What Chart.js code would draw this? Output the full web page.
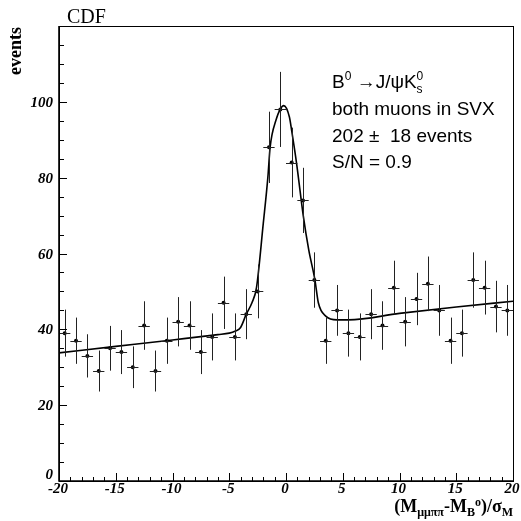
<!DOCTYPE html>
<html>
<head>
<meta charset="utf-8">
<script src="https://cdn.jsdelivr.net/npm/chart.js@4.4.0/dist/chart.umd.min.js"></script>
<style>
  html, body { margin: 0; padding: 0; background: #fff; }
  #wrap { position: relative; width: 521px; height: 521px; }
</style>
</head>
<body>
<div id="wrap"><canvas id="c" width="521" height="521"></canvas></div>
<script>
// bin centres of (M - M_B)/sigma_M
const binCenters = [-19.5, -18.5, -17.5, -16.5, -15.5, -14.5, -13.5, -12.5, -11.5, -10.5,
  -9.5, -8.5, -7.5, -6.5, -5.5, -4.5, -3.5, -2.5, -1.5, -0.5,
  0.5, 1.5, 2.5, 3.5, 4.5, 5.5, 6.5, 7.5, 8.5, 9.5,
  10.5, 11.5, 12.5, 13.5, 14.5, 15.5, 16.5, 17.5, 18.5, 19.5];
const counts = [39, 37, 33, 29, 35, 34, 30, 41, 29, 37,
  42, 41, 34, 38, 47, 38, 44, 50, 88, 98,
  84, 74, 53, 37, 45, 39, 38, 44, 41, 51,
  42, 48, 52, 45, 37, 39, 53, 51, 46, 45];
const errors = [6.2, 6.1, 5.7, 5.4, 5.9, 5.8, 5.5, 6.4, 5.4, 6.1,
  6.5, 6.4, 5.8, 6.2, 6.9, 6.2, 6.6, 7.1, 9.4, 9.9,
  9.2, 8.6, 7.3, 6.1, 6.7, 6.2, 6.2, 6.6, 6.4, 7.1,
  6.5, 6.9, 7.2, 6.7, 6.1, 6.2, 7.3, 7.1, 6.8, 6.7];

// fit curve
const fitX = [-20, -15, -10, -6, -5, -4.5, -4, -3.5, -3, -2.6, -2.0, -1.6, -1.4, -0.9, -0.2,
  0.3, 0.5, 0.94, 1.52, 2.0, 2.55, 2.85, 3.5, 4.5, 5.5, 10, 15, 20];
const fitY = [33.8, 35.5, 37.2, 38.6, 39.0, 39.5, 40.5, 44, 47, 51, 68, 80, 88, 95, 99,
  96, 92.4, 83.6, 70, 61, 53, 47, 43.5, 42.5, 42.5, 44.2, 45.9, 47.4];

const xTickLabels = ['-20', '-15', '-10', '-5', '0', '5', '10', '15', '20'];
const yTickLabels = ['0', '20', '40', '60', '80', '100'];
const infoLines = ['both muons in SVX', '202 \u00b1  18 events', 'S/N = 0.9'];

const SERIF = '"Liberation Serif", "Times New Roman", serif';
const SANS = '"Liberation Sans", Arial, sans-serif';

const errorBars = {
  id: 'errorBars',
  afterDatasetsDraw(chart) {
    const {ctx, scales: {x, y}} = chart;
    ctx.save();
    ctx.strokeStyle = '#222';
    ctx.lineWidth = 1;
    binCenters.forEach((c, i) => {
      const px = Math.round(x.getPixelForValue(c)) + 0.5;
      const py = Math.round(y.getPixelForValue(counts[i])) + 0.5;
      ctx.beginPath();
      ctx.moveTo(px, y.getPixelForValue(counts[i] + errors[i]));
      ctx.lineTo(px, y.getPixelForValue(counts[i] - errors[i]));
      ctx.moveTo(x.getPixelForValue(c - 0.5), py);
      ctx.lineTo(x.getPixelForValue(c + 0.5), py);
      ctx.stroke();
    });
    ctx.restore();
  }
};

const frame = {
  id: 'frame',
  afterDraw(chart) {
    const {ctx, chartArea: a, scales: {x, y}} = chart;
    ctx.save();
    ctx.strokeStyle = '#000';
    ctx.lineWidth = 1;
    ctx.strokeRect(a.left + 0.5, a.top + 0.5, a.right - a.left, a.bottom - a.top);
    ctx.lineWidth = 1.6;
    ctx.beginPath();
    ctx.moveTo(a.left, a.top);
    ctx.lineTo(a.left, a.bottom);
    ctx.lineTo(a.right, a.bottom);
    ctx.stroke();

    // ticks
    ctx.lineWidth = 1;
    ctx.beginPath();
    for (let v = -20; v <= 20; v++) {
      const px = Math.round(x.getPixelForValue(v)) + 0.5;
      const len = v % 5 === 0 ? 8 : 4;
      ctx.moveTo(px, a.bottom);
      ctx.lineTo(px, a.bottom - len);
    }
    for (let v = 0; v <= 120; v += 5) {
      const py = Math.round(y.getPixelForValue(v)) + 0.5;
      const len = v % 20 === 0 ? 8 : 5;
      ctx.moveTo(a.left, py);
      ctx.lineTo(a.left + len, py);
    }
    ctx.stroke();

    // tick labels
    ctx.fillStyle = '#000';
    ctx.font = 'bold italic 15px ' + SERIF;
    ctx.textAlign = 'center';
    ctx.textBaseline = 'alphabetic';
    xTickLabels.forEach(t => {
      ctx.fillText(t, x.getPixelForValue(+t) - 1, a.bottom + 12);
    });
    ctx.textAlign = 'right';
    yTickLabels.forEach(t => {
      const v = +t;
      const py = v === 0 ? a.bottom - 2 : y.getPixelForValue(v) + 5;
      ctx.fillText(t, a.left - 6, py);
    });

    // CDF
    ctx.textAlign = 'left';
    ctx.font = '20px ' + SERIF;
    ctx.fillText('CDF', 67, 23);

    // y title
    ctx.save();
    ctx.translate(21, 51);
    ctx.rotate(-Math.PI / 2);
    ctx.textAlign = 'center';
    ctx.font = 'bold 18px ' + SERIF;
    ctx.fillText('events', 0, 0);
    ctx.restore();

    // x title: (M_μμππ - M_B0)/σ_M, right aligned
    const big = 'bold 18px ' + SERIF, small = 'bold 12px ' + SERIF;
    const parts = [
      ['(M', big, 0], ['\u03bc\u03bc\u03c0\u03c0', small, 4], ['-M', big, 0], ['B', small, 4],
      ['o', small, -6], [')/\u03c3', big, 0], ['M', small, 4]
    ];
    let w = 0;
    parts.forEach(p => { ctx.font = p[1]; w += ctx.measureText(p[0]).width; });
    let tx = a.right - w;
    parts.forEach(p => {
      ctx.font = p[1];
      ctx.fillText(p[0], tx, 512 + p[2]);
      tx += ctx.measureText(p[0]).width;
    });

    // info text
    const f = '19px ' + SANS, fs = '12px ' + SANS;
    let ix = 332;
    const first = [['B', f, 0], ['0', fs, -8], [' \u2192J/\u03c8K', f, 0]];
    first.forEach(p => {
      ctx.font = p[1];
      ctx.fillText(p[0], ix, 88 + p[2]);
      ix += ctx.measureText(p[0]).width;
    });
    ctx.font = fs;
    ctx.fillText('0', ix, 80);
    ctx.fillText('s', ix, 93);
    ctx.font = f;
    infoLines.forEach((t, i) => ctx.fillText(t, 332, 115 + i * 26.5));
    ctx.restore();
  }
};

new Chart(document.getElementById('c'), {
  type: 'scatter',
  data: {
    datasets: [{
      data: fitX.map((v, i) => ({x: v, y: fitY[i]})),
      showLine: true,
      borderColor: '#000',
      borderWidth: 1.6,
      pointRadius: 0,
      cubicInterpolationMode: 'monotone',
      order: 1
    }, {
      data: binCenters.map((v, i) => ({x: v, y: counts[i]})),
      showLine: false,
      pointRadius: 2,
      pointBackgroundColor: '#000',
      pointBorderWidth: 0,
      order: 0
    }]
  },
  options: {
    responsive: false,
    animation: false,
    layout: {padding: {left: 59, top: 26, right: 8, bottom: 40}},
    scales: {
      x: {type: 'linear', min: -20, max: 20, display: false},
      y: {type: 'linear', min: 0, max: 120, display: false}
    },
    plugins: {legend: {display: false}, tooltip: {enabled: false}}
  },
  plugins: [errorBars, frame]
});
</script>
</body>
</html>
